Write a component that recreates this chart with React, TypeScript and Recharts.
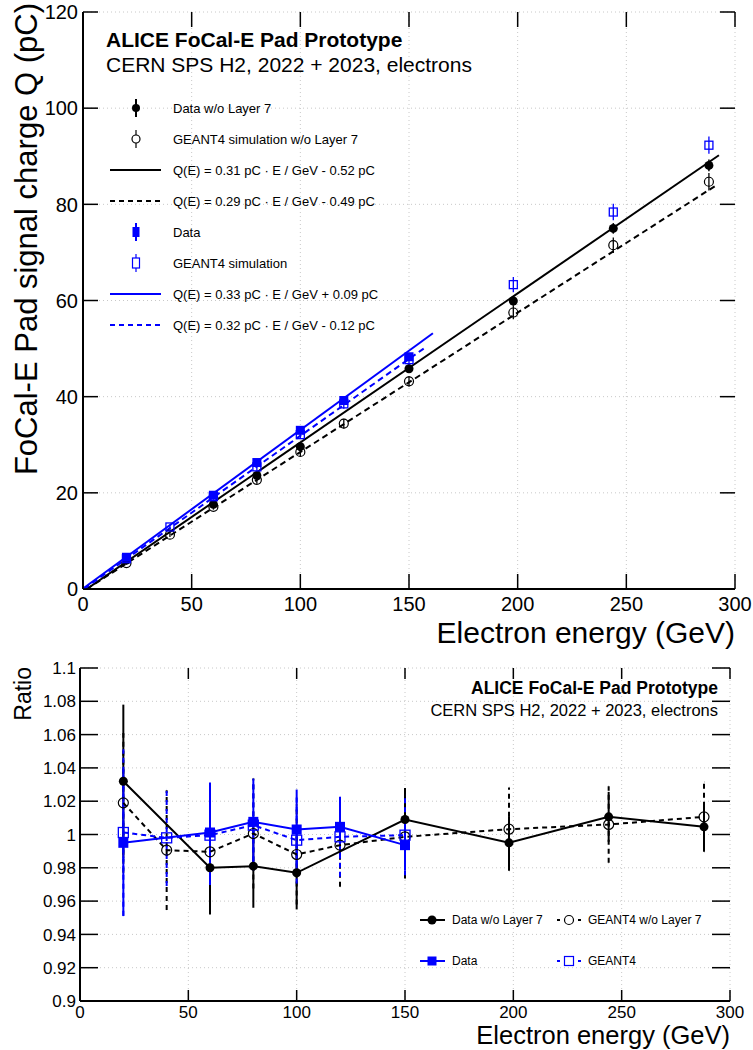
import React from 'react';
import { ComposedChart, Scatter, XAxis, YAxis, CartesianGrid, ErrorBar } from 'recharts';

// ---- upper panel: signal charge vs electron energy ----
const energyNoL7 = [20, 60, 80, 100, 150, 198, 244, 288];
const chargeNoL7 = [6.0, 17.6, 23.6, 29.6, 45.8, 59.9, 75.0, 88.1];
const chargeNoL7Err = [0.3, 0.5, 0.6, 0.7, 0.9, 1.0, 1.1, 1.2];

const energySimNoL7 = [20, 40, 60, 80, 100, 120, 150, 198, 244, 288];
const chargeSimNoL7 = [5.4, 11.3, 17.1, 22.7, 28.5, 34.4, 43.2, 57.5, 71.5, 84.7];
const chargeSimNoL7Err = [0.3, 0.5, 0.6, 0.8, 0.9, 1.0, 1.1, 1.4, 1.6, 1.8];

const energyData = [20, 60, 80, 100, 120, 150];
const chargeData = [6.6, 19.5, 26.3, 33.0, 39.2, 48.3];
const chargeDataErr = [0.3, 0.6, 0.7, 0.8, 0.7, 0.7];

const energySim = [20, 40, 60, 80, 100, 120, 150, 198, 244, 288];
const chargeSim = [6.3, 12.9, 19.2, 25.4, 32.1, 38.5, 47.7, 63.3, 78.4, 92.3];
const chargeSimErr = [0.3, 0.5, 0.6, 0.8, 0.9, 1.0, 1.1, 1.6, 1.7, 1.8];

// fit lines (end points)
const fitNoL7E = [1.7, 292.6];
const fitNoL7Q = [0.0, 90.2];
const fitSimNoL7E = [1.7, 291.5];
const fitSimNoL7Q = [0.0, 84.0];
const fitDataE = [0.5, 161];
const fitDataQ = [0.26, 53.2];
const fitSimE = [0.5, 158];
const fitSimQ = [0.04, 50.4];

// ---- lower panel: ratio ----
const ratioNoL7E = [20, 60, 80, 100, 150, 198, 244, 288];
const ratioNoL7 = [1.032, 0.98, 0.981, 0.977, 1.009, 0.995, 1.0106, 1.0046];
const ratioNoL7Err = [0.046, 0.028, 0.025, 0.022, 0.019, 0.016, 0.015, 0.014];

const ratioSimNoL7E = [20, 40, 60, 80, 100, 120, 150, 198, 244, 288];
const ratioSimNoL7 = [1.019, 0.9906, 0.9896, 1.0006, 0.988, 0.9936, 0.9986, 1.0032, 1.006, 1.0106];
const ratioSimNoL7Err = [0.042, 0.036, 0.032, 0.033, 0.03, 0.025, 0.025, 0.025, 0.023, 0.021];

const ratioDataE = [20, 60, 80, 100, 120, 150];
const ratioData = [0.995, 1.0012, 1.0076, 1.003, 1.0046, 0.9936];
const ratioDataErr = [0.044, 0.03, 0.026, 0.024, 0.018, 0.015];

const ratioSimE = [20, 40, 60, 80, 100, 120, 150];
const ratioSim = [1.0012, 0.998, 0.9996, 1.0056, 0.9966, 0.9986, 0.9996];
const ratioSimErr = [0.05, 0.029, 0.03, 0.027, 0.026, 0.024, 0.024];

// axis ticks
const xMajorTicks = [0, 50, 100, 150, 200, 250, 300];
const xMinorTicks = Array.from({ length: 31 }, (_, i) => i * 10);
const qMajorTicks = [0, 20, 40, 60, 80, 100, 120];
const qMinorTicks = Array.from({ length: 25 }, (_, i) => i * 5);
const rMajorTicks = [0.9, 0.92, 0.94, 0.96, 0.98, 1.0, 1.02, 1.04, 1.06, 1.08, 1.1];
const rMinorTicks = Array.from({ length: 41 }, (_, i) => +(0.9 + i * 0.005).toFixed(3));

const FONT = '"Liberation Sans", Arial, Helvetica, sans-serif';
const BLUE = '#0000ff';

const pts = (xs: number[], ys: number[], es?: number[]) =>
  xs.map((x, i) => ({ x, y: ys[i], e: es ? es[i] : 0 }));

type Geom = { w: number; h: number; left: number; right: number; top: number; bottom: number };
const TOP: Geom = { w: 753, h: 650, left: 83, right: 735, top: 12, bottom: 589 };
const BOT: Geom = { w: 753, h: 400, left: 80, right: 730, top: 18, bottom: 351 };

// ROOT-like ticks drawn inside the frame, on all four sides
function xMajor(g: Geom, len: number, fs: number, dy: number) {
  return (p: any) => (
    <g>
      <line x1={p.x} y1={g.bottom} x2={p.x} y2={g.bottom - len} stroke="#000" strokeWidth={1.5} />
      <line x1={p.x} y1={g.top} x2={p.x} y2={g.top + len} stroke="#000" strokeWidth={1.5} />
      <text x={p.x} y={g.bottom + dy} textAnchor="middle" fontSize={fs} fontFamily={FONT} fill="#000">
        {p.payload.value}
      </text>
    </g>
  );
}
function xMinor(g: Geom, len: number) {
  return (p: any) => (
    <g>
      <line x1={p.x} y1={g.bottom} x2={p.x} y2={g.bottom - len} stroke="#000" strokeWidth={1.2} />
      <line x1={p.x} y1={g.top} x2={p.x} y2={g.top + len} stroke="#000" strokeWidth={1.2} />
    </g>
  );
}
function yMajor(g: Geom, len: number, fs: number, gap: number) {
  return (p: any) => (
    <g>
      <line x1={g.left} y1={p.y} x2={g.left + len} y2={p.y} stroke="#000" strokeWidth={1.5} />
      <line x1={g.right} y1={p.y} x2={g.right - len} y2={p.y} stroke="#000" strokeWidth={1.5} />
      <text x={g.left - gap} y={p.y + fs * 0.36} textAnchor="end" fontSize={fs} fontFamily={FONT} fill="#000">
        {String(+Number(p.payload.value).toFixed(2))}
      </text>
    </g>
  );
}
function yMinor(g: Geom, len: number) {
  return (p: any) => (
    <g>
      <line x1={g.left} y1={p.y} x2={g.left + len} y2={p.y} stroke="#000" strokeWidth={1.2} />
      <line x1={g.right} y1={p.y} x2={g.right - len} y2={p.y} stroke="#000" strokeWidth={1.2} />
    </g>
  );
}

const dot = (r: number, fill: string) => (p: any) => <circle cx={p.cx} cy={p.cy} r={r} fill={fill} />;
const ring = (r: number, stroke: string) => (p: any) => (
  <circle cx={p.cx} cy={p.cy} r={r} fill="none" stroke={stroke} strokeWidth={1.2} />
);
const box = (s: number, fill: string) => (p: any) => (
  <rect x={p.cx - s / 2} y={p.cy - s / 2} width={s} height={s} fill={fill} />
);
const openBox = (s: number, stroke: string) => (p: any) => (
  <rect x={p.cx - s / 2} y={p.cy - s / 2} width={s} height={s} fill="none" stroke={stroke} strokeWidth={1.3} />
);
const nothing = () => <g />;

function Frame({ g, xMinorLen, xMajorLen, yMinorLen, yMajorLen, xfs, xdy, yfs, ygap, ydomain, yTicks, yMinorTicks }: any) {
  return [
    <CartesianGrid key="grid" xAxisId="main" yAxisId="main" stroke="#c8c8c8" strokeDasharray="1 3" />,
    <XAxis key="xm" xAxisId="main" type="number" dataKey="x" domain={[0, 300]} ticks={xMajorTicks} interval={0}
      height={g.h - g.bottom} tickLine={false} axisLine={{ stroke: '#000', strokeWidth: 2 }}
      tick={xMajor(g, xMajorLen, xfs, xdy)} allowDataOverflow />,
    <XAxis key="xn" xAxisId="minor" orientation="top" type="number" dataKey="x" domain={[0, 300]} ticks={xMinorTicks}
      interval={0} height={0} tickLine={false} axisLine={{ stroke: '#000', strokeWidth: 2 }}
      tick={xMinor(g, xMinorLen)} allowDataOverflow />,
    <YAxis key="ym" yAxisId="main" type="number" dataKey="y" domain={ydomain} ticks={yTicks} interval={0}
      width={g.left} tickLine={false} axisLine={{ stroke: '#000', strokeWidth: 2 }}
      tick={yMajor(g, yMajorLen, yfs, ygap)} allowDataOverflow />,
    <YAxis key="yn" yAxisId="minor" orientation="right" type="number" dataKey="y" domain={ydomain} ticks={yMinorTicks}
      interval={0} width={0} tickLine={false} axisLine={{ stroke: '#000', strokeWidth: 2 }}
      tick={yMinor(g, yMinorLen)} allowDataOverflow />,
  ];
}

function UpperPanel() {
  const fit = (xs: number[], ys: number[], color: string, dash?: string) => (
    <Scatter xAxisId="main" yAxisId="main" data={pts(xs, ys)} shape={nothing} isAnimationActive={false}
      line={{ stroke: color, strokeWidth: 2, strokeDasharray: dash }} lineType="joint" legendType="none" />
  );
  return (
    <ComposedChart width={TOP.w} height={TOP.h} margin={{ top: TOP.top, right: TOP.w - TOP.right, bottom: 0, left: 0 }}>
      {Frame({ g: TOP, xMinorLen: 8, xMajorLen: 15, yMinorLen: 8, yMajorLen: 15, xfs: 20, xdy: 22, yfs: 20, ygap: 5,
        ydomain: [0, 120], yTicks: qMajorTicks, yMinorTicks: qMinorTicks })}
      {fit(fitNoL7E, fitNoL7Q, '#000')}
      {fit(fitSimNoL7E, fitSimNoL7Q, '#000', '6 4')}
      {fit(fitDataE, fitDataQ, BLUE)}
      {fit(fitSimE, fitSimQ, BLUE, '6 4')}
      <Scatter xAxisId="main" yAxisId="main" data={pts(energySimNoL7, chargeSimNoL7, chargeSimNoL7Err)}
        shape={ring(4.5, '#000')} isAnimationActive={false}>
        <ErrorBar dataKey="e" direction="y" width={0} stroke="#000" strokeWidth={1.3} />
      </Scatter>
      <Scatter xAxisId="main" yAxisId="main" data={pts(energyNoL7, chargeNoL7, chargeNoL7Err)}
        shape={dot(4.5, '#000')} isAnimationActive={false}>
        <ErrorBar dataKey="e" direction="y" width={0} stroke="#000" strokeWidth={1.5} />
      </Scatter>
      <Scatter xAxisId="main" yAxisId="main" data={pts(energySim, chargeSim, chargeSimErr)}
        shape={openBox(8, BLUE)} isAnimationActive={false}>
        <ErrorBar dataKey="e" direction="y" width={0} stroke={BLUE} strokeWidth={1.3} />
      </Scatter>
      <Scatter xAxisId="main" yAxisId="main" data={pts(energyData, chargeData, chargeDataErr)}
        shape={box(9, BLUE)} isAnimationActive={false}>
        <ErrorBar dataKey="e" direction="y" width={0} stroke={BLUE} strokeWidth={1.5} />
      </Scatter>
    </ComposedChart>
  );
}

function LowerPanel() {
  return (
    <ComposedChart width={BOT.w} height={BOT.h} margin={{ top: BOT.top, right: BOT.w - BOT.right, bottom: 0, left: 0 }}>
      {Frame({ g: BOT, xMinorLen: 6, xMajorLen: 11, yMinorLen: 9, yMajorLen: 18, xfs: 17, xdy: 17, yfs: 17, ygap: 4,
        ydomain: [0.9, 1.1], yTicks: rMajorTicks, yMinorTicks: rMinorTicks })}
      <Scatter xAxisId="main" yAxisId="main" data={pts(ratioNoL7E, ratioNoL7, ratioNoL7Err)}
        shape={dot(4.5, '#000')} isAnimationActive={false}
        line={{ stroke: '#000', strokeWidth: 2 }} lineType="joint">
        <ErrorBar dataKey="e" direction="y" width={0} stroke="#000" strokeWidth={2} />
      </Scatter>
      <Scatter xAxisId="main" yAxisId="main" data={pts(ratioSimNoL7E, ratioSimNoL7, ratioSimNoL7Err)}
        shape={ring(5, '#000')} isAnimationActive={false}
        line={{ stroke: '#000', strokeWidth: 2, strokeDasharray: '5 4' }} lineType="joint">
        <ErrorBar dataKey="e" direction="y" width={0} stroke="#000" strokeWidth={2} strokeDasharray="5 4" />
      </Scatter>
      <Scatter xAxisId="main" yAxisId="main" data={pts(ratioDataE, ratioData, ratioDataErr)}
        shape={box(10, BLUE)} isAnimationActive={false}
        line={{ stroke: BLUE, strokeWidth: 2 }} lineType="joint">
        <ErrorBar dataKey="e" direction="y" width={0} stroke={BLUE} strokeWidth={2} />
      </Scatter>
      <Scatter xAxisId="main" yAxisId="main" data={pts(ratioSimE, ratioSim, ratioSimErr)}
        shape={openBox(10, BLUE)} isAnimationActive={false}
        line={{ stroke: BLUE, strokeWidth: 2, strokeDasharray: '5 4' }} lineType="joint">
        <ErrorBar dataKey="e" direction="y" width={0} stroke={BLUE} strokeWidth={2} strokeDasharray="5 4" />
      </Scatter>
    </ComposedChart>
  );
}

const upperLegend = [
  'Data w/o Layer 7',
  'GEANT4 simulation w/o Layer 7',
  'Q(E) = 0.31 pC \u00b7 E / GeV - 0.52 pC',
  'Q(E) = 0.29 pC \u00b7 E / GeV - 0.49 pC',
  'Data',
  'GEANT4 simulation',
  'Q(E) = 0.33 pC \u00b7 E / GeV + 0.09 pC',
  'Q(E) = 0.32 pC \u00b7 E / GeV - 0.12 pC',
];

function UpperLegendIcon({ i, y }: { i: number; y: number }) {
  const cx = 136;
  const c = i < 4 ? '#000' : BLUE;
  const k = i % 4;
  if (k === 0)
    return (
      <g>
        <line x1={cx} y1={y - 9} x2={cx} y2={y + 9} stroke={c} strokeWidth={2} />
        {i < 4 ? <circle cx={cx} cy={y} r={4} fill={c} /> : <rect x={cx - 3.5} y={y - 5} width={7} height={10} fill={c} />}
      </g>
    );
  if (k === 1)
    return (
      <g>
        <line x1={cx} y1={y - 9} x2={cx} y2={y + 9} stroke={c} strokeWidth={1.2} />
        {i < 4 ? (
          <circle cx={cx} cy={y} r={4} fill="#fff" stroke={c} strokeWidth={1.2} />
        ) : (
          <rect x={cx - 3.5} y={y - 5} width={7} height={10} fill="#fff" stroke={c} strokeWidth={1.2} />
        )}
      </g>
    );
  return <line x1={110} y1={y} x2={161} y2={y} stroke={c} strokeWidth={2} strokeDasharray={k === 3 ? '5 4' : undefined} />;
}

function Overlay() {
  const rows = [108, 139, 170, 201, 232, 263, 294, 325];
  const r1 = 920;
  const r2 = 961;
  return (
    <svg width={753} height={1050} style={{ position: 'absolute', left: 0, top: 0, pointerEvents: 'none' }}
      fontFamily={FONT}>
      {/* upper panel titles */}
      <text transform="translate(37,3) rotate(-90)" textAnchor="end" fontSize={31}>FoCal-E Pad signal charge Q (pC)</text>
      <text x={735} y={643} textAnchor="end" fontSize={30}>Electron energy (GeV)</text>
      <text x={106} y={47} fontSize={21} fontWeight="bold">ALICE FoCal-E Pad Prototype</text>
      <text x={106} y={72} fontSize={21}>CERN SPS H2, 2022 + 2023, electrons</text>
      {upperLegend.map((t, i) => (
        <g key={t}>
          <UpperLegendIcon i={i} y={rows[i]} />
          <text x={173} y={rows[i] + 4.6} fontSize={13}>{t}</text>
        </g>
      ))}

      {/* lower panel titles */}
      <text transform="translate(31,667) rotate(-90)" textAnchor="end" fontSize={23}>Ratio</text>
      <text x={730} y={1044} textAnchor="end" fontSize={25.5}>Electron energy (GeV)</text>
      <text x={718} y={694} textAnchor="end" fontSize={17.5} fontWeight="bold">ALICE FoCal-E Pad Prototype</text>
      <text x={718} y={716} textAnchor="end" fontSize={16.5}>CERN SPS H2, 2022 + 2023, electrons</text>

      <line x1={420} y1={r1} x2={445} y2={r1} stroke="#000" strokeWidth={2} />
      <circle cx={432} cy={r1} r={4.5} fill="#000" />
      <text x={452} y={r1 + 4.2} fontSize={12}>Data w/o Layer 7</text>
      <line x1={557} y1={r1} x2={582} y2={r1} stroke="#000" strokeWidth={2} strokeDasharray="3 4" />
      <circle cx={569} cy={r1} r={4.5} fill="#fff" stroke="#000" strokeWidth={1.2} />
      <text x={588} y={r1 + 4.2} fontSize={12}>GEANT4 w/o Layer 7</text>

      <line x1={420} y1={r2} x2={445} y2={r2} stroke={BLUE} strokeWidth={2} />
      <rect x={427.5} y={r2 - 4.5} width={9} height={9} fill={BLUE} />
      <text x={452} y={r2 + 4.2} fontSize={12}>Data</text>
      <line x1={557} y1={r2} x2={582} y2={r2} stroke={BLUE} strokeWidth={2} strokeDasharray="3 4" />
      <rect x={564.5} y={r2 - 4.5} width={9} height={9} fill="#fff" stroke={BLUE} strokeWidth={1.2} />
      <text x={588} y={r2 + 4.2} fontSize={12}>GEANT4</text>
    </svg>
  );
}

export default function App() {
  return (
    <div style={{ position: 'absolute', left: 0, top: 0, width: 753, height: 1050, background: '#fff', fontFamily: FONT }}>
      <div style={{ position: 'absolute', left: 0, top: 0 }}>
        <UpperPanel />
      </div>
      <div style={{ position: 'absolute', left: 0, top: 650 }}>
        <LowerPanel />
      </div>
      <Overlay />
    </div>
  );
}
